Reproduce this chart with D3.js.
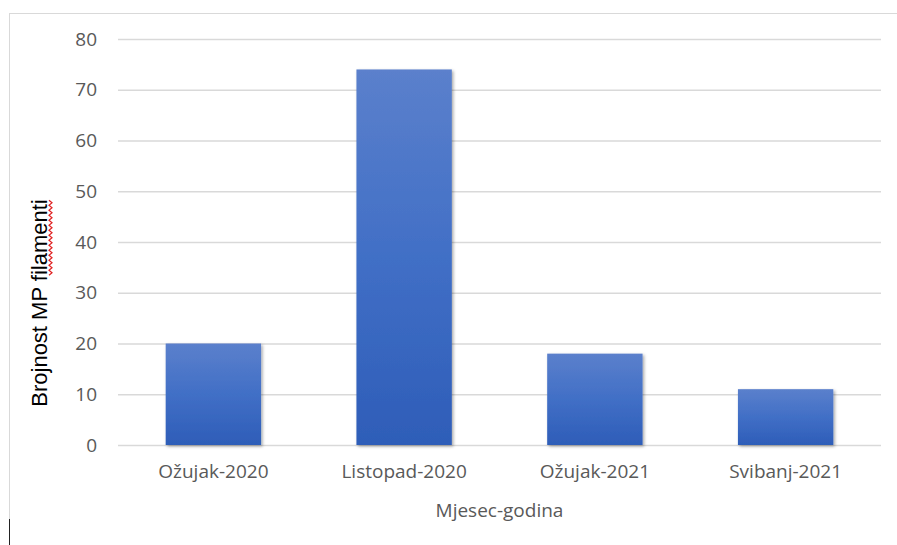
<!DOCTYPE html>
<meta charset="utf-8">
<style>
  body { margin: 0; background: #fff; }
  svg { display: block; }
</style>
<script src="https://d3js.org/d3.v7.min.js"></script>
<div id="chart"></div>
<script>
// data
var months = ["Ožujak-2020", "Listopad-2020", "Ožujak-2021", "Svibanj-2021"];
var counts = [20, 74, 18, 11];
var yTicks = [0, 10, 20, 30, 40, 50, 60, 70, 80];

var W = 897, H = 545;
var plotL = 118, plotR = 881, plotT = 39, plotB = 445;

var svg = d3.select("#chart").append("svg")
    .attr("width", W).attr("height", H);

var defs = svg.append("defs");
var grad = defs.append("linearGradient")
    .attr("id", "barGrad").attr("x1", 0).attr("y1", 0).attr("x2", 0).attr("y2", 1);
grad.append("stop").attr("offset", "0%").attr("stop-color", "#5b80cc");
grad.append("stop").attr("offset", "50%").attr("stop-color", "#416fc6");
grad.append("stop").attr("offset", "100%").attr("stop-color", "#2e5db8");

var shadow = defs.append("filter").attr("id", "shadow")
    .attr("x", "-10%").attr("y", "-10%").attr("width", "130%").attr("height", "130%");
shadow.append("feDropShadow")
    .attr("dx", 1.5).attr("dy", 1.5).attr("stdDeviation", 1.8)
    .attr("flood-color", "#000").attr("flood-opacity", 0.35);

// chart frame (top and left edges only visible)
svg.append("line").attr("x1", 9).attr("x2", W).attr("y1", 13.5).attr("y2", 13.5)
    .attr("stroke", "#d9d9d9");
svg.append("line").attr("x1", 9.5).attr("x2", 9.5).attr("y1", 13).attr("y2", 519)
    .attr("stroke", "#d9d9d9");
svg.append("line").attr("x1", 9.5).attr("x2", 9.5).attr("y1", 519).attr("y2", H)
    .attr("stroke", "#222");

var x = d3.scaleBand().domain(months).range([plotL, plotR]).paddingInner(0.5).paddingOuter(0.25);
var y = d3.scaleLinear().domain([0, 80]).range([plotB, plotT]);

// gridlines + y labels
var yAxis = svg.append("g")
    .attr("transform", "translate(" + plotL + ",0)")
    .call(d3.axisLeft(y).tickValues(yTicks).tickSize(-(plotR - plotL)).tickPadding(21));
yAxis.select(".domain").remove();
yAxis.selectAll(".tick line").attr("stroke", "#d9d9d9").attr("stroke-width", 1.3);
yAxis.selectAll(".tick text")
    .attr("fill", "#595959")
    .style("font-family", "'Open Sans', sans-serif")
    .style("font-size", "19px");

// bars
svg.selectAll(".bar")
  .data(counts)
  .enter()
  .append("rect")
    .attr("class", "bar")
    .attr("x", function(d, i) { return x(months[i]); })
    .attr("y", function(d) { return y(d); })
    .attr("width", x.bandwidth())
    .attr("height", function(d) { return y(0) - y(d); })
    .attr("fill", "url(#barGrad)")
    .attr("filter", "url(#shadow)");

// x labels
var xAxis = svg.append("g")
    .attr("transform", "translate(0," + plotB + ")")
    .call(d3.axisBottom(x).tickSize(0).tickPadding(20));
xAxis.select(".domain").remove();
xAxis.selectAll(".tick text")
    .attr("fill", "#595959")
    .style("font-family", "'Open Sans', sans-serif")
    .style("font-size", "19px");

// axis titles
svg.append("text")
    .attr("x", (plotL + plotR) / 2).attr("y", 517)
    .attr("text-anchor", "middle")
    .attr("fill", "#595959")
    .style("font-family", "'Open Sans', sans-serif")
    .style("font-size", "19px")
    .text("Mjesec-godina");

var yTitleG = svg.append("g").attr("transform", "translate(47,303) rotate(-90)");
var yTitle = yTitleG.append("text")
    .attr("x", 0).attr("y", 0)
    .attr("text-anchor", "middle")
    .attr("fill", "#000")
    .style("font-family", "'Liberation Sans', Arial, sans-serif")
    .style("font-size", "22px")
    .text("Brojnost MP filamenti");

// red spell-check squiggle under "filamenti"
var full = yTitle.node().getComputedTextLength();
var word = "Brojnost MP filamenti";
var start = word.indexOf("filamenti");
var x0 = -full / 2 + yTitle.node().getSubStringLength(0, start) + 6;
var x1 = full / 2 + 1;
var pts = [];
for (var px = x0, k = 0; px <= x1; px += 2.5, k++) pts.push([px, (k % 2 ? 5 : 2)]);
yTitleG.append("path")
    .attr("d", d3.line()(pts))
    .attr("fill", "none")
    .attr("stroke", "#e02020")
    .attr("stroke-width", 1.2);
</script>
